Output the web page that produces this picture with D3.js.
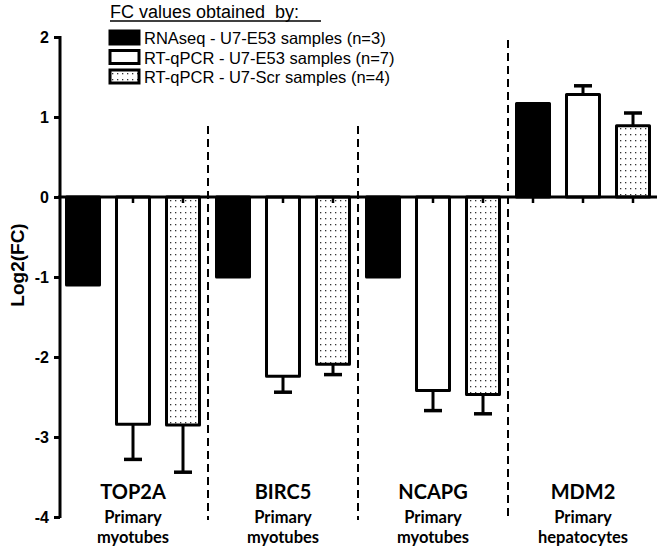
<!DOCTYPE html>
<html>
<head>
<meta charset="utf-8">
<script src="https://cdn.jsdelivr.net/npm/d3@7"></script>
<style>
  body { margin: 0; background: #fff; }
  svg { display: block; }
</style>
</head>
<body>
<div id="chart"></div>
<script>
// data
const genes = ["TOP2A", "BIRC5", "NCAPG", "MDM2"];
const cellTypes = ["myotubes", "myotubes", "myotubes", "hepatocytes"];
const seriesNames = [
    "RNAseq - U7-E53 samples (n=3)",
    "RT-qPCR - U7-E53 samples (n=7)",
    "RT-qPCR - U7-Scr samples (n=4)"
];
const rnaseqE53 = [-1.10, -1.00, -1.00, 1.17];
const qpcrE53 = [-2.84, -2.24, -2.42, 1.28];
const qpcrE53Err = [0.44, 0.20, 0.25, 0.11];
const qpcrScr = [-2.85, -2.09, -2.47, 0.89];
const qpcrScrErr = [0.59, 0.13, 0.24, 0.16];
const yTicks = [-4, -3, -2, -1, 0, 1, 2];

const width = 660, height = 551;
const font = "'Liberation Sans', Arial, sans-serif";
const labelFont = "Lato, 'Open Sans', sans-serif";

const svg = d3.select("#chart").append("svg")
    .attr("width", width)
    .attr("height", height);

// dotted fill
const defs = svg.append("defs");
const pat = defs.append("pattern")
    .attr("id", "dots")
    .attr("patternUnits", "userSpaceOnUse")
    .attr("width", 5).attr("height", 6);
pat.append("rect").attr("width", 5).attr("height", 6).attr("fill", "#fff");
pat.append("rect").attr("x", 2).attr("y", 2).attr("width", 1.3).attr("height", 1.3).attr("fill", "#333");

const y = d3.scaleLinear().domain([-4, 2]).range([517, 37]);
const x0 = d3.scaleBand().domain(genes).range([58, 658]);
const x1 = d3.scaleBand().domain([0, 1, 2]).range([0, x0.bandwidth()])
    .paddingInner(0.28).paddingOuter(0.14);

const rows = genes.map((g, i) => ({
    gene: g,
    bars: [
        { s: 0, v: rnaseqE53[i], e: 0 },
        { s: 1, v: qpcrE53[i], e: qpcrE53Err[i] },
        { s: 2, v: qpcrScr[i], e: qpcrScrErr[i] }
    ]
}));

// dashed separators between genes
const seps = genes.slice(1);
svg.selectAll(".sep").data(seps).enter().append("line")
    .attr("class", "sep")
    .attr("x1", d => x0(d)).attr("x2", d => x0(d))
    .attr("y1", (d, i) => i == 2 ? 40 : 126)
    .attr("y2", 520)
    .attr("stroke", "#000")
    .attr("stroke-width", 2)
    .attr("stroke-dasharray", "8,5");

const fills = ["#000", "#fff", "url(#dots)"];

const grp = svg.selectAll(".gene").data(rows).enter().append("g")
    .attr("class", "gene")
    .attr("transform", d => `translate(${x0(d.gene)},0)`);

// error bars (drawn first so bar outline covers the stem)
grp.selectAll(".err").data(d => d.bars.filter(b => b.e > 0)).enter().append("g")
    .each(function(b) {
        const g = d3.select(this);
        const cx = x1(b.s) + x1.bandwidth() / 2;
        const tip = b.v < 0 ? b.v - b.e : b.v + b.e;
        g.append("line")
            .attr("x1", cx).attr("x2", cx)
            .attr("y1", y(b.v)).attr("y2", y(tip))
            .attr("stroke", "#000").attr("stroke-width", 3);
        g.append("line")
            .attr("x1", cx - 9).attr("x2", cx + 9)
            .attr("y1", y(tip)).attr("y2", y(tip))
            .attr("stroke", "#000").attr("stroke-width", 3.5);
    });

grp.selectAll(".bar").data(d => d.bars).enter().append("rect")
    .attr("class", "bar")
    .attr("x", b => x1(b.s) + 1.5)
    .attr("width", x1.bandwidth() - 3)
    .attr("y", b => y(Math.max(0, b.v)))
    .attr("height", b => Math.abs(y(b.v) - y(0)))
    .attr("fill", b => fills[b.s])
    .attr("stroke", "#000")
    .attr("stroke-width", 3)
    .attr("stroke-linejoin", "round");

// x axis line at zero with a small tick under every bar
svg.append("line")
    .attr("x1", 58).attr("x2", 657)
    .attr("y1", y(0)).attr("y2", y(0))
    .attr("stroke", "#000").attr("stroke-width", 3);
grp.selectAll(".xt").data(d => d.bars).enter().append("line")
    .attr("x1", b => x1(b.s) + x1.bandwidth() / 2)
    .attr("x2", b => x1(b.s) + x1.bandwidth() / 2)
    .attr("y1", y(0)).attr("y2", y(0) + 6)
    .attr("stroke", "#000").attr("stroke-width", 2.5);

// y axis
const yAxis = svg.append("g")
    .attr("transform", "translate(60,0)")
    .call(d3.axisLeft(y).tickValues(yTicks).tickFormat(d => String(d)).tickSize(6).tickPadding(5));
yAxis.select(".domain").attr("stroke-width", 3).attr("d", `M0,${y(2) - 1}V${y(-4) + 1}`);
yAxis.selectAll(".tick line").attr("stroke-width", 3);
yAxis.selectAll(".tick text")
    .attr("font-family", font)
    .attr("font-weight", "bold")
    .attr("font-size", 16)
    .attr("fill", "#000");

svg.append("text")
    .attr("transform", `translate(24,${y(-0.85)}) rotate(-90)`)
    .attr("text-anchor", "middle")
    .attr("font-family", font)
    .attr("font-weight", "bold")
    .attr("font-size", 19)
    .text("Log2(FC)");

// gene labels under the plot
const lab = svg.selectAll(".lab").data(genes).enter().append("g")
    .attr("transform", d => `translate(${x0(d) + x0.bandwidth() / 2},0)`)
    .attr("text-anchor", "middle")
    .attr("font-family", labelFont)
    .attr("font-weight", "bold");
lab.append("text").attr("y", 499).attr("font-size", 20).text(d => d);
lab.append("text").attr("y", 523).attr("font-size", 16.5).text("Primary");
lab.append("text").attr("y", 543).attr("font-size", 16.5).text((d, i) => cellTypes[i]);

// legend
const leg = svg.append("g").attr("font-family", font);
leg.append("text")
    .attr("x", 110).attr("y", 18)
    .attr("font-size", 18)
    .attr("xml:space", "preserve")
    .text("FC values obtained  by:");
leg.append("line")
    .attr("x1", 110).attr("x2", 321)
    .attr("y1", 21).attr("y2", 21)
    .attr("stroke", "#000").attr("stroke-width", 1.3);

const li = leg.selectAll(".li").data(seriesNames).enter().append("g")
    .attr("transform", (d, i) => `translate(0,${44 + i * 19.5})`);
li.append("rect")
    .attr("x", 110).attr("y", -13)
    .attr("width", 29).attr("height", 13)
    .attr("fill", (d, i) => fills[i])
    .attr("stroke", "#000").attr("stroke-width", 3);
li.append("text")
    .attr("x", 144).attr("y", 0)
    .attr("font-size", 16.5)
    .text(d => d);
</script>
</body>
</html>
